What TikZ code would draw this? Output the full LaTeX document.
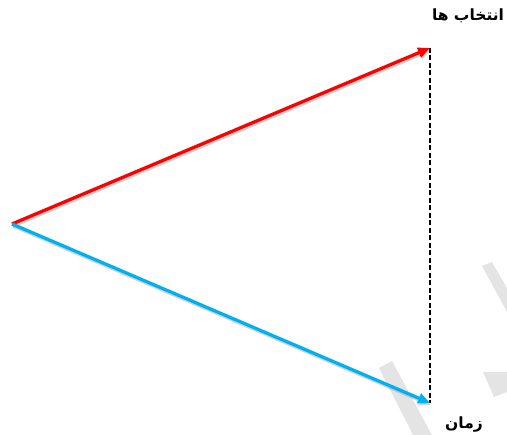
\documentclass[tikz,border=0pt]{standalone}
\usepackage{fontspec}
\newfontfamily\arabicfont[Script=Arabic]{DejaVu Sans}
\TeXXeTstate=1
\usetikzlibrary{arrows.meta}
\definecolor{vred}{RGB}{255,0,0}
\definecolor{vblue}{RGB}{0,176,240}
\definecolor{wmark}{RGB}{228,228,228}
\tikzset{
  vec/.style={line width=3.3pt,-{Triangle[length=12pt,width=10pt]}},
  shadowvec/.style={line width=3.3pt,draw=black!35,opacity=0.5,-{Triangle[length=12pt,width=10pt]}},
  guide/.style={line width=1.8pt,dashed,dash pattern=on 5pt off 2.5pt,black},
  lbl/.style={font=\arabicfont\bfseries\fontsize{15.5}{18}\selectfont,inner sep=0pt,text=black}
}
\begin{document}
\begin{tikzpicture}[x=1pt,y=-1pt]
\useasboundingbox (0,0) rectangle (507,435);
% watermark shapes
\fill[wmark] (379,368) -- (392,361) -- (432,435) -- (413,435) -- cycle;
\fill[wmark] (482,266) -- (492,262) -- (507,288) -- (507,312) -- cycle;
\fill[wmark] (483,372) -- (507,372) -- (507,392) -- (494,397) -- cycle;
% points
\coordinate (o) at (12,224);
\coordinate (top) at (430,48);
\coordinate (bot) at (430,403);
\coordinate (os) at (13,226);
\coordinate (tops) at (431,50);
\coordinate (bots) at (431,405);
% shadows
\draw[shadowvec] (os) -- (tops);
\draw[shadowvec] (os) -- (bots);
% dashed guide
\draw[guide] (top) -- (bot);
% vectors
\draw[vec,vred] (o) -- (top);
\draw[vec,vblue] (o) -- (bot);
% labels
\node[lbl] (lchoice) at (468,16) {\beginR انتخاب ها\endR};
\node[lbl] (ltime) at (464,425) {\beginR زمان\endR};
\end{tikzpicture}
\end{document}
